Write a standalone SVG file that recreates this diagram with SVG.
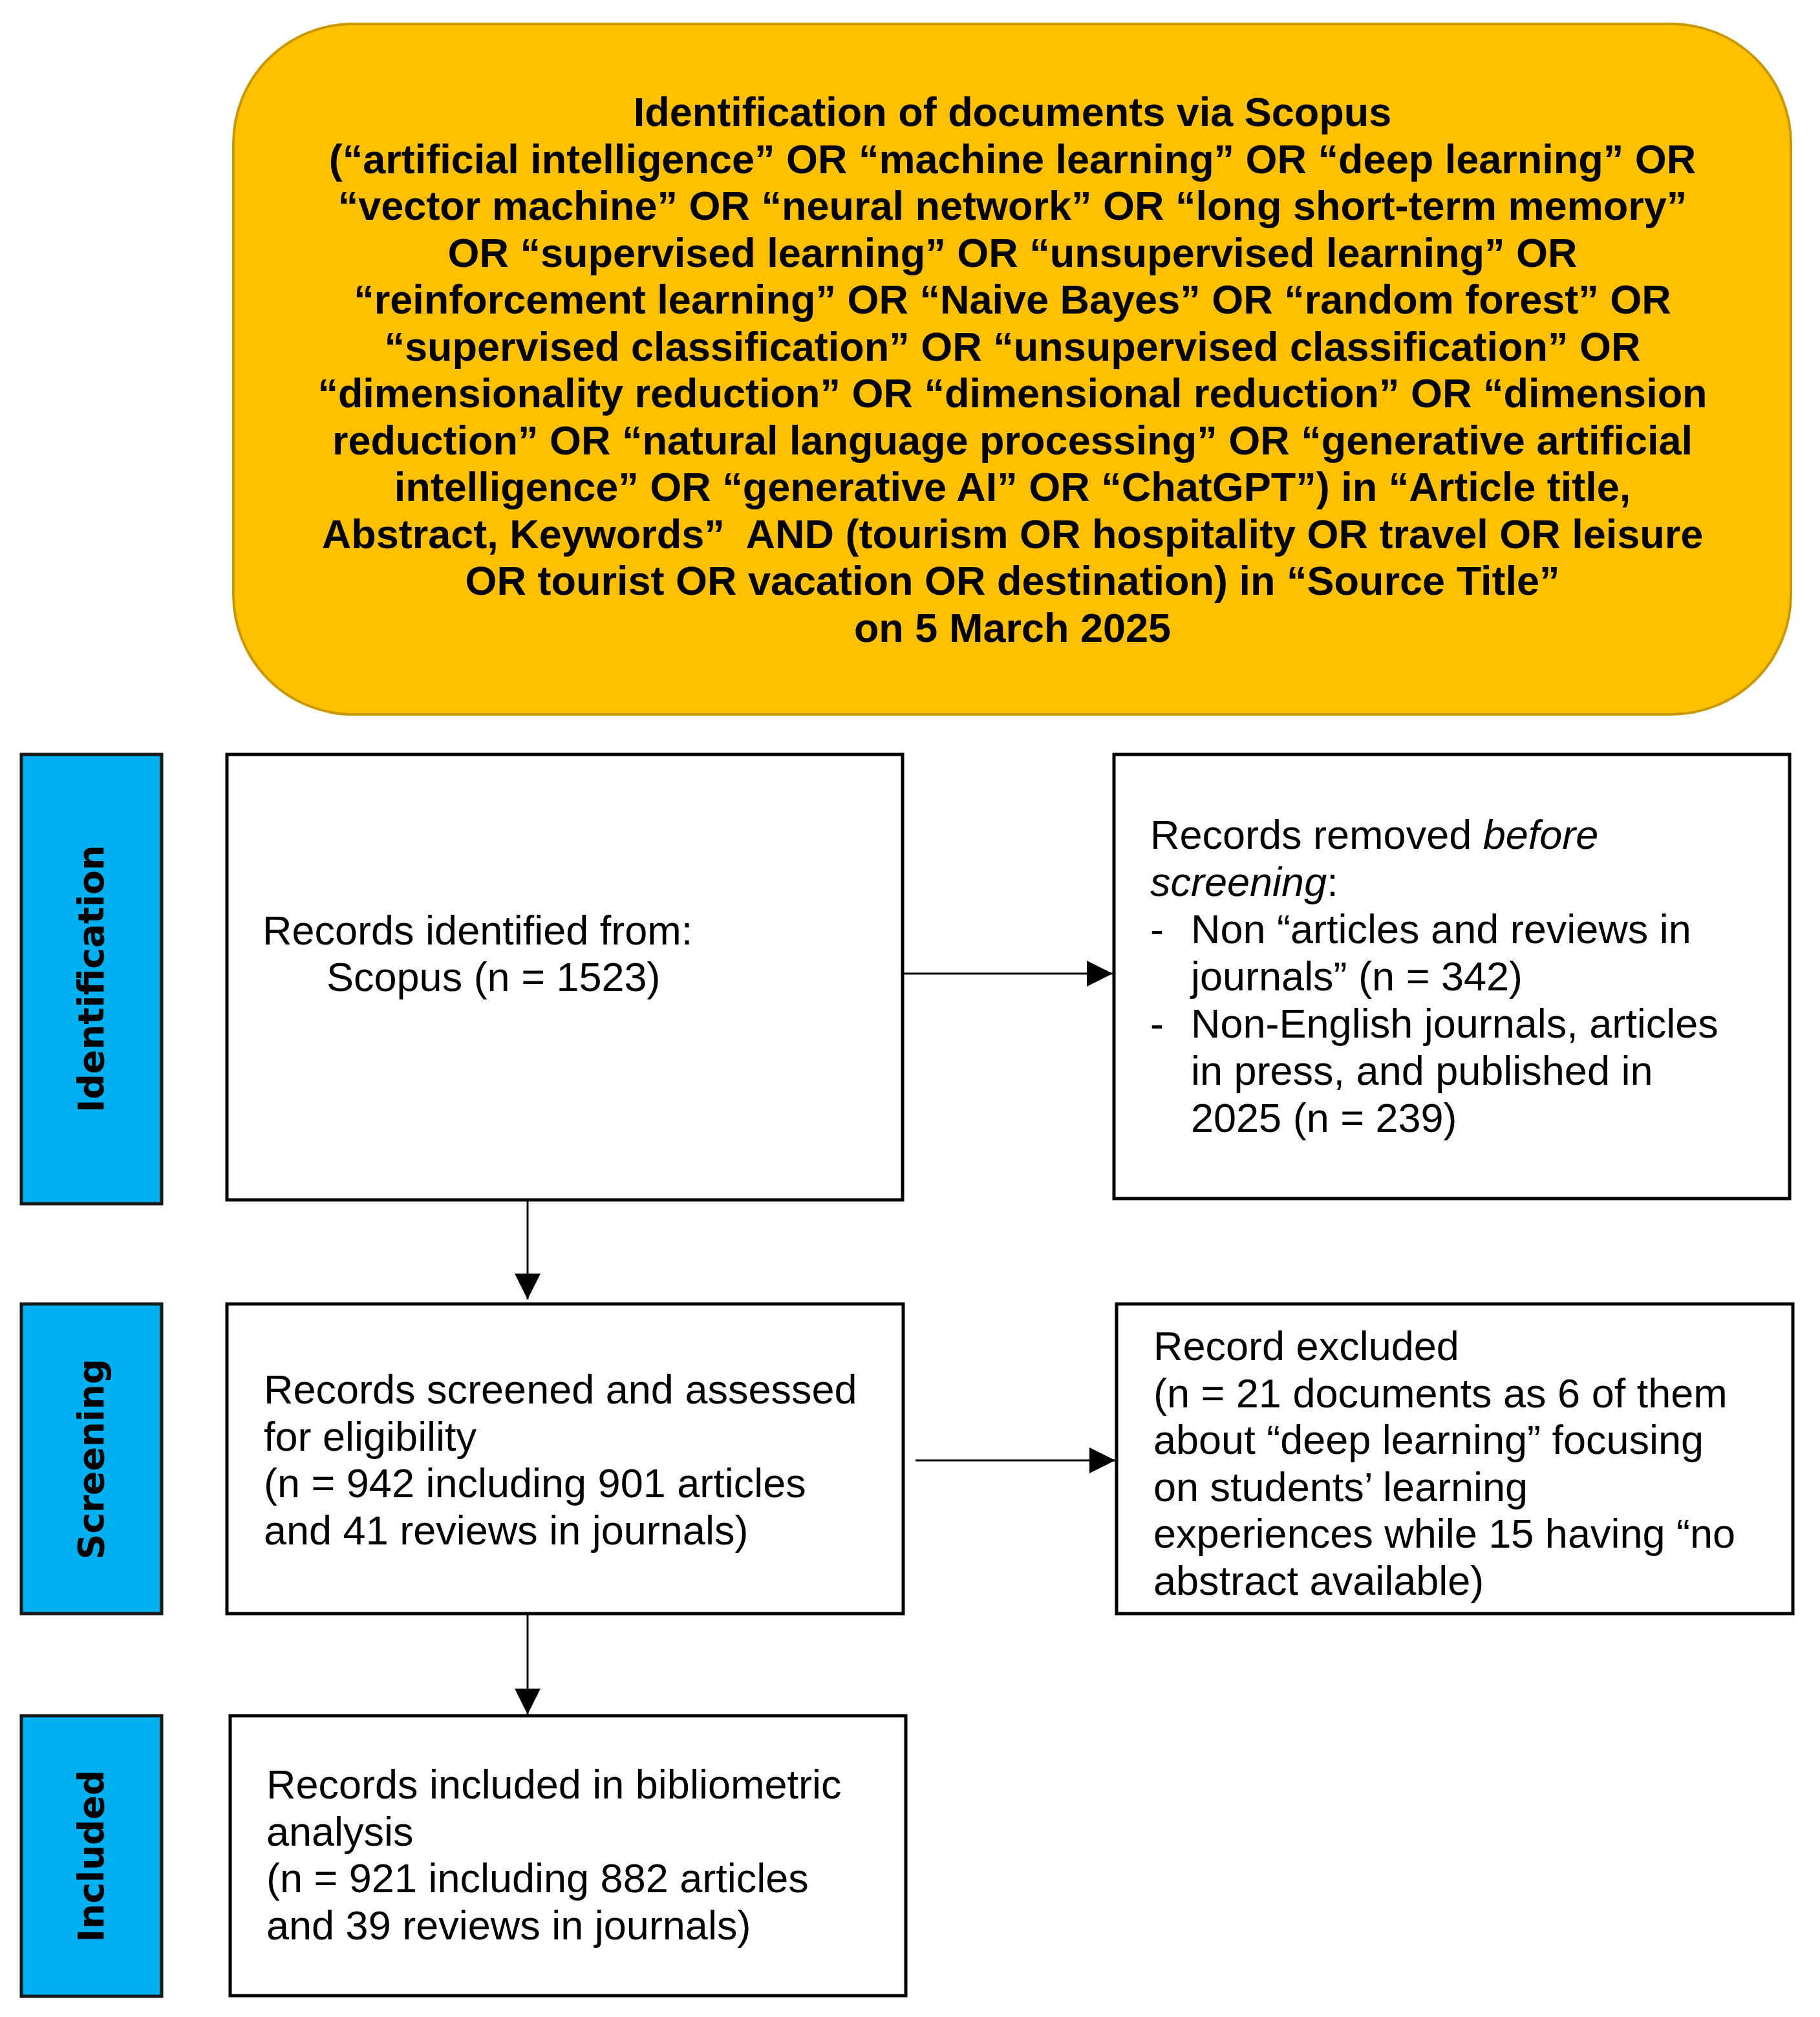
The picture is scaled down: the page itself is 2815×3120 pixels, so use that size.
<svg xmlns="http://www.w3.org/2000/svg" width="2815" height="3120" viewBox="0 0 2815 3120">
<style>
.bg{fill:#ffffff}
.title{fill:#FFC000;stroke:#C99700;stroke-width:4}
.lane{fill:#00B0F0;stroke:#1a1a1a;stroke-width:5}
.box{fill:#ffffff;stroke:#000000;stroke-width:5}
.lt{font-family:"DejaVu Sans",Verdana,sans-serif;font-weight:bold;font-size:55px;fill:#000;text-anchor:middle}
.tt{font-family:"Liberation Sans",Arial,sans-serif;font-weight:bold;font-size:63px;fill:#000;text-anchor:middle;white-space:pre}
.bt{font-family:"Liberation Sans",Arial,sans-serif;font-size:63px;fill:#000}
.conn{stroke:#000;stroke-width:3;fill:none}
</style>
<defs>
<marker id="ah" viewBox="0 0 40 40" refX="40" refY="20" markerWidth="40" markerHeight="40" markerUnits="userSpaceOnUse" orient="auto">
<path d="M0,0 L40,20 L0,40 Z" fill="#000"/>
</marker>
</defs>
<rect class="bg" x="0" y="0" width="2815" height="3120"/>

<g id="search">
<rect class="title" x="361" y="37" width="2409" height="1068" rx="185" ry="185"/>
<text class="tt" x="1566" y="195">Identification of documents via Scopus</text>
<text class="tt" x="1566" y="267.5">(“artificial intelligence” OR “machine learning” OR “deep learning” OR</text>
<text class="tt" x="1566" y="340">“vector machine” OR “neural network” OR “long short-term memory”</text>
<text class="tt" x="1566" y="412.5">OR “supervised learning” OR “unsupervised learning” OR</text>
<text class="tt" x="1566" y="485">“reinforcement learning” OR “Naive Bayes” OR “random forest” OR</text>
<text class="tt" x="1566" y="557.5">“supervised classification” OR “unsupervised classification” OR</text>
<text class="tt" x="1566" y="630">“dimensionality reduction” OR “dimensional reduction” OR “dimension</text>
<text class="tt" x="1566" y="702.5">reduction” OR “natural language processing” OR “generative artificial</text>
<text class="tt" x="1566" y="775">intelligence” OR “generative AI” OR “ChatGPT”) in “Article title,</text>
<text class="tt" x="1566" y="847.5" xml:space="preserve">Abstract, Keywords”  AND (tourism OR hospitality OR travel OR leisure</text>
<text class="tt" x="1566" y="920">OR tourist OR vacation OR destination) in “Source Title”</text>
<text class="tt" x="1566" y="992.5">on 5 March 2025</text>
</g>

<g id="lane-identification">
<rect class="lane" x="33" y="1167" width="217" height="695"/>
<text class="lt" transform="translate(160,1514) rotate(-90)">Identification</text>
</g>
<g id="lane-screening">
<rect class="lane" x="33" y="2017" width="217" height="479"/>
<text class="lt" transform="translate(160,2257) rotate(-90)">Screening</text>
</g>
<g id="lane-included">
<rect class="lane" x="33" y="2654" width="217" height="434"/>
<text class="lt" transform="translate(160,2871) rotate(-90)">Included</text>
</g>

<g id="identified">
<rect class="box" x="351" y="1167" width="1045" height="689"/>
<text class="bt" x="406" y="1461">Records identified from:</text>
<text class="bt" x="505" y="1533">Scopus (n = 1523)</text>
</g>

<g id="removed">
<rect class="box" x="1723" y="1167" width="1045" height="687"/>
<text class="bt" x="1779" y="1313">Records removed <tspan font-style="italic">before</tspan></text>
<text class="bt" x="1779" y="1386"><tspan font-style="italic">screening</tspan>:</text>
<text class="bt" x="1779" y="1459">-</text>
<text class="bt" x="1842" y="1459">Non “articles and reviews in</text>
<text class="bt" x="1842" y="1532">journals” (n = 342)</text>
<text class="bt" x="1779" y="1605">-</text>
<text class="bt" x="1842" y="1605">Non-English journals, articles</text>
<text class="bt" x="1842" y="1678">in press, and published in</text>
<text class="bt" x="1842" y="1751">2025 (n = 239)</text>
</g>

<g id="screened">
<rect class="box" x="351" y="2017" width="1046" height="479"/>
<text class="bt" x="408" y="2171">Records screened and assessed</text>
<text class="bt" x="408" y="2243.5">for eligibility</text>
<text class="bt" x="408" y="2316">(n = 942 including 901 articles</text>
<text class="bt" x="408" y="2388.5">and 41 reviews in journals)</text>
</g>

<g id="excluded">
<rect class="box" x="1727" y="2017" width="1046" height="479"/>
<text class="bt" x="1784" y="2104">Record excluded</text>
<text class="bt" x="1784" y="2176.5">(n = 21 documents as 6 of them</text>
<text class="bt" x="1784" y="2249">about “deep learning” focusing</text>
<text class="bt" x="1784" y="2321.5">on students’ learning</text>
<text class="bt" x="1784" y="2394">experiences while 15 having “no</text>
<text class="bt" x="1784" y="2466.5">abstract available)</text>
</g>

<g id="included">
<rect class="box" x="356" y="2654" width="1045" height="433"/>
<text class="bt" x="412" y="2782">Records included in bibliometric</text>
<text class="bt" x="412" y="2855">analysis</text>
<text class="bt" x="412" y="2927">(n = 921 including 882 articles</text>
<text class="bt" x="412" y="3000">and 39 reviews in journals)</text>
</g>

<g id="connectors">
<line class="conn" x1="1398" y1="1506" x2="1721" y2="1506" marker-end="url(#ah)"/>
<line class="conn" x1="816" y1="1858" x2="816" y2="2010" marker-end="url(#ah)"/>
<line class="conn" x1="1416" y1="2259" x2="1725" y2="2259" marker-end="url(#ah)"/>
<line class="conn" x1="816" y1="2498" x2="816" y2="2652" marker-end="url(#ah)"/>
</g>
</svg>
